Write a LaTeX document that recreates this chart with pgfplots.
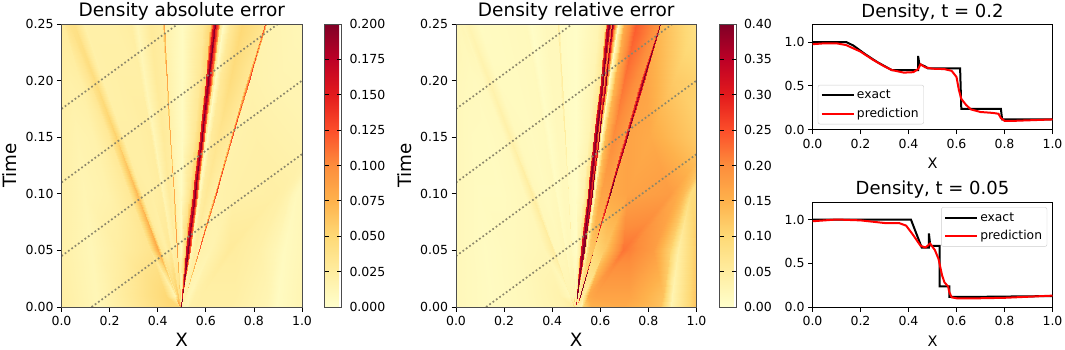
\documentclass[border=0pt]{standalone}
\usepackage{fontspec}
\setmainfont{DejaVu Sans}
\usepackage{pgfplots}
\usepackage{pgfplotstable}
\pgfplotsset{compat=1.18}
\pgfplotstableread{
x t a r
0 0 .022 .02
0 .01 .022 .02
0 .05 .02 .02
0 .1 .02 .02
0 .15 .02 .02
0 .2 .022 .02
0 .25 .028 .025
.15 0 .012 .012
.144 .01 .012 .012
.122 .05 .012 .012
.093 .1 .014 .014
.065 .15 .016 .015
.036 .2 .02 .018
.008 .25 .028 .022
.30 0 .03 .02
.289 .01 .03 .02
.244 .05 .024 .018
.188 .1 .018 .014
.132 .15 .018 .014
.076 .2 .022 .016
.02 .25 .035 .025
.45 0 .05 .035
.433 .01 .05 .035
.366 .05 .035 .025
.282 .1 .03 .02
.198 .15 .03 .018
.114 .2 .033 .018
.03 .25 .038 .022
.49 0 .05 .05
.472 .01 .015 .02
.402 .05 .08 .05
.314 .1 .07 .05
.226 .15 .055 .04
.138 .2 .045 .035
.05 .25 .04 .03
.492 0 .12 .1
.476 .01 .03 .03
.413 .05 .03 .02
.333 .1 .025 .02
.254 .15 .022 .018
.174 .2 .02 .015
.095 .25 .02 .012
.493 0 .12 .08
.481 .01 .05 .03
.434 .05 .022 .02
.376 .1 .022 .015
.317 .15 .022 .015
.259 .2 .022 .015
.20 .25 .02 .015
.494 0 .1 .06
.486 .01 .06 .03
.453 .05 .03 .025
.412 .1 .025 .02
.372 .15 .025 .018
.331 .2 .022 .018
.29 .25 .024 .018
.4945 0 .08 .05
.487 .01 .05 .03
.458 .05 .02 .015
.422 .1 .014 .01
.385 .15 .012 .008
.349 .2 .012 .008
.313 .25 .012 .006
.495 0 .06 .05
.49 .01 .04 .03
.47 .05 .024 .02
.445 .1 .028 .018
.42 .15 .028 .018
.395 .2 .028 .018
.37 .25 .028 .018
.4955 0 .05 .05
.492 .01 .04 .03
.481 .05 .02 .018
.465 .1 .024 .018
.450 .15 .024 .018
.434 .2 .024 .018
.419 .25 .024 .018
.496 0 .2 .2
.493 .01 .15 .15
.482 .05 .09 .06
.468 .1 .08 .05
.453 .15 .08 .05
.439 .2 .085 .05
.425 .25 .09 .05
.4965 0 .06 .05
.494 .01 .05 .04
.483 .05 .02 .015
.470 .1 .018 .012
.457 .15 .018 .012
.444 .2 .018 .012
.431 .25 .018 .012
.497 0 .02 .02
.497 .01 .02 .02
.498 .05 .008 .008
.498 .1 .006 .006
.499 .15 .006 .006
.499 .2 .006 .006
.50 .25 .006 .006
.4975 0 .05 .04
.501 .01 .05 .04
.512 .05 .05 .04
.530 .1 .035 .03
.550 .15 .03 .028
.571 .2 .03 .028
.59 .25 .03 .028
.498 0 .3 .15
.503 .01 .15 .1
.516 .05 .09 .08
.544 .1 .06 .08
.570 .15 .05 .06
.598 .2 .05 .06
.618 .25 .05 .06
.4985 0 .3 .3
.504 .01 .2 .35
.519 .05 .16 .32
.547 .1 .15 .32
.574 .15 .15 .32
.602 .2 .15 .32
.628 .25 .15 .32
.499 0 .3 .3
.505 .01 .25 .5
.526 .05 .25 .5
.555 .1 .25 .5
.583 .15 .25 .5
.610 .2 .25 .45
.638 .25 .25 .4
.4992 0 .25 .45
.505 .01 .2 .45
.530 .05 .15 .4
.560 .1 .15 .3
.589 .15 .15 .2
.617 .2 .15 .2
.643 .25 .15 .2
.4995 0 .2 .3
.506 .01 .14 .35
.534 .05 .12 .4
.564 .1 .12 .4
.593 .15 .12 .4
.622 .2 .12 .4
.650 .25 .12 .42
.50 0 .05 .1
.506 .01 .05 .1
.537 .05 .06 .12
.568 .1 .04 .08
.597 .15 .03 .08
.628 .2 .03 .2
.659 .25 .03 .25
.5005 0 .02 .04
.507 .01 .02 .04
.54 .05 .015 .03
.572 .1 .008 .02
.604 .15 .006 .012
.638 .2 .006 .01
.672 .25 .006 .01
.501 0 .02 .05
.509 .01 .02 .05
.545 .05 .02 .08
.583 .1 .025 .12
.620 .15 .028 .14
.660 .2 .03 .15
.70 .25 .03 .16
.502 0 .02 .05
.512 .01 .02 .06
.555 .05 .025 .12
.601 .1 .03 .17
.651 .15 .035 .2
.70 .2 .045 .22
.75 .25 .05 .24
.503 0 .02 .05
.516 .01 .02 .07
.568 .05 .02 .13
.634 .1 .022 .17
.700 .15 .028 .18
.766 .2 .032 .19
.842 .25 .035 .19
.5035 0 .08 .3
.517 .01 .09 .4
.572 .05 .12 .5
.641 .1 .13 .5
.710 .15 .13 .5
.779 .2 .13 .5
.848 .25 .13 .5
.504 0 .015 .04
.518 .01 .015 .06
.574 .05 .018 .1
.645 .1 .018 .16
.715 .15 .018 .17
.785 .2 .018 .17
.854 .25 .016 .14
.52 0 .012 .03
.53 .01 .012 .05
.616 .05 .016 .12
.712 .1 .02 .17
.808 .15 .02 .16
.904 .2 .015 .12
1.0 .25 .012 .08
.53 0 .02 .1
.55 .01 .02 .16
.695 .05 .028 .22
.89 .1 .022 .18
1.085 .15 .015 .1
1.28 .2 .012 .08
1.475 .25 .012 .08
.56 0 .022 .15
.58 .01 .022 .17
.72 .05 .025 .21
.92 .1 .02 .16
1.09 .15 .015 .1
1.29 .2 .012 .08
1.48 .25 .012 .08
.70 0 .022 .16
.72 .01 .022 .17
.82 .05 .02 .18
.945 .1 .016 .14
1.10 .15 .012 .1
1.30 .2 .012 .08
1.49 .25 .012 .08
.85 0 .014 .13
.86 .01 .014 .13
.89 .05 .012 .11
.96 .1 .012 .115
1.11 .15 .012 .08
1.31 .2 .012 .08
1.50 .25 .012 .08
.895 0 .006 .03
.90 .01 .006 .03
.925 .05 .007 .045
.975 .1 .009 .09
1.12 .15 .01 .08
1.32 .2 .01 .08
1.51 .25 .01 .08
1.0 0 .014 .13
1.0 .01 .014 .13
1.0 .05 .012 .12
1.02 .1 .01 .1
1.13 .15 .01 .08
1.33 .2 .01 .08
1.52 .25 .01 .08
}\errtbl
\definecolor{spine}{gray}{0.3}
\definecolor{dotc}{rgb}{0.55,0.53,0.42}
\pgfplotsset{
  colormap={ylorrd}{rgb=(1,1,.8) rgb=(1,.929,.627) rgb=(.996,.851,.463) rgb=(.996,.698,.298) rgb=(.992,.553,.235) rgb=(.988,.306,.165) rgb=(.89,.102,.11) rgb=(.741,0,.149) rgb=(.502,0,.149)},
  base/.style={
    scale only axis, anchor=south west,
    /pgf/number format/assume math mode=true,
    tick align=outside, xtick pos=bottom, ytick pos=left,
    tick style={black, line width=0.8pt},
    major tick length=4.5pt,
    scaled ticks=false,
    ticklabel style={font=\fontsize{12.5}{14}\selectfont},
    xmin=0, xmax=1,
    xtick={0,0.2,0.4,0.6,0.8,1},
    x tick label style={yshift=-1.5pt, /pgf/number format/.cd,fixed,fixed zerofill,precision=1},
  },
  heat/.style={
    base, width=240.5pt, height=283pt,
    ymin=0, ymax=0.25, ytick={0,0.05,0.1,0.15,0.2,0.25},
    y tick label style={/pgf/number format/.cd,fixed,fixed zerofill,precision=2},
    axis line style={spine, line width=1pt},
    axis on top,
    xlabel=X, ylabel=Time,
    label style={font=\fontsize{18.3}{20}\selectfont},
    title style={font=\fontsize{18.5}{20}\selectfont, yshift=-6pt},
    xlabel style={yshift=-0.5pt},
    ylabel style={yshift=2pt},
  },
  cbar/.style n args={3}{
    colorbar,
    point meta min=0, point meta max=#1,
    colorbar style={
      at={(1.0956,0)}, anchor=south west, width=17pt, height=283pt,
      scale only axis,
      ytick={#2},
      scaled ticks=false,
      /pgf/number format/assume math mode=true,
      y tick label style={xshift=4pt, /pgf/number format/.cd,fixed,fixed zerofill,precision=#3},
      ticklabel style={font=\fontsize{12.5}{14}\selectfont},
      major tick length=4.5pt,
      tick style={black, line width=0.8pt},
      axis line style={spine, line width=1pt},
    },
  },
  dots/.style={no marks, color=dotc, line width=1.7pt, dash pattern=on 1.7pt off 2.4pt},
  curve/.style={
    base, width=240pt, height=105pt,
    ymin=0, ymax=1.2, ytick={0,0.5,1},
    y tick label style={/pgf/number format/.cd,fixed,fixed zerofill,precision=1},
    axis line style={black, line width=0.8pt},
    xlabel=X,
    label style={font=\fontsize{14.5}{16}\selectfont},
    title style={font=\fontsize{18}{20}\selectfont, yshift=-6pt},
    xlabel style={yshift=-3pt},
    legend cell align=left,
    legend image code/.code={\draw[##1] (0pt,0pt) -- (26pt,0pt);\path (0pt,0pt) -- (32pt,0pt);},
    legend style={font=\fontsize{12.3}{14}\selectfont, draw=black!20, rounded corners=2pt, inner sep=3pt, row sep=4pt},
  },
}
\begin{document}
\begin{tikzpicture}[x=1pt,y=1pt]
\useasboundingbox (0,0) rectangle (1065,349);
\begin{axis}[heat, at={(61.5pt,42pt)}, title={Density absolute error},
  cbar={0.2}{0,0.025,0.05,0.075,0.1,0.125,0.15,0.175,0.2}{3}]
\addplot[surf, shader=interp, mesh/cols=7, point meta=\thisrow{a}] table[x=x,y=t] {\errtbl};
\addplot[dots] coordinates {(0.125,0) (1,0.135)};
\addplot[dots] coordinates {(0,0.045) (1,0.2)};
\addplot[dots] coordinates {(0,0.11) (0.9,0.25)};
\addplot[dots] coordinates {(0,0.175) (0.484,0.25)};
\end{axis}
\begin{axis}[heat, at={(456pt,42pt)}, title={Density relative error},
  cbar={0.4}{0,0.05,0.1,0.15,0.2,0.25,0.3,0.35,0.4}{2}]
\addplot[surf, shader=interp, mesh/cols=7, point meta=\thisrow{r}] table[x=x,y=t] {\errtbl};
\addplot[dots] coordinates {(0.125,0) (1,0.135)};
\addplot[dots] coordinates {(0,0.045) (1,0.2)};
\addplot[dots] coordinates {(0,0.11) (0.9,0.25)};
\addplot[dots] coordinates {(0,0.175) (0.484,0.25)};
\end{axis}
\begin{axis}[curve, at={(812.5pt,219.5pt)}, title={Density, t = 0.2},
  legend style={at={(0.022,0.05)}, anchor=south west}]
\addplot[black, line width=2pt, no marks] coordinates {(0,1) (0.14,1) (0.17,0.96) (0.22,0.86) (0.27,0.77) (0.33,0.68) (0.44,0.68) (0.44,0.84) (0.445,0.75) (0.47,0.72) (0.48,0.70) (0.615,0.70) (0.62,0.235) (0.785,0.235) (0.79,0.115) (1,0.115)};
\addlegendentry{exact}
\addplot[red, line width=2pt, no marks] coordinates {(0,0.975) (0.05,0.985) (0.1,0.985) (0.14,0.965) (0.2,0.89) (0.25,0.80) (0.3,0.72) (0.33,0.68) (0.38,0.65) (0.42,0.655) (0.44,0.69) (0.45,0.745) (0.47,0.71) (0.5,0.695) (0.55,0.69) (0.58,0.67) (0.6,0.60) (0.61,0.45) (0.62,0.35) (0.64,0.28) (0.66,0.23) (0.7,0.2) (0.75,0.19) (0.775,0.18) (0.785,0.13) (0.8,0.1) (0.85,0.1) (1,0.115)};
\addlegendentry{prediction}
\end{axis}
\begin{axis}[curve, at={(812.5pt,42pt)}, title={Density, t = 0.05},
  legend style={at={(0.978,0.95)}, anchor=north east}]
\addplot[black, line width=2pt, no marks] coordinates {(0,1) (0.41,1) (0.455,0.68) (0.485,0.68) (0.485,0.84) (0.49,0.72) (0.495,0.70) (0.53,0.70) (0.53,0.235) (0.57,0.235) (0.57,0.115) (0.65,0.115) (1,0.125)};
\addlegendentry{exact}
\addplot[red, line width=2pt, no marks] coordinates {(0,0.98) (0.05,0.99) (0.1,1) (0.2,0.99) (0.3,0.96) (0.36,0.96) (0.39,0.93) (0.42,0.82) (0.45,0.70) (0.47,0.68) (0.48,0.70) (0.49,0.725) (0.51,0.65) (0.525,0.55) (0.54,0.36) (0.55,0.28) (0.565,0.235) (0.57,0.17) (0.58,0.11) (0.6,0.1) (0.7,0.1) (0.8,0.105) (1,0.13)};
\addlegendentry{prediction}
\end{axis}
\end{tikzpicture}
\end{document}
